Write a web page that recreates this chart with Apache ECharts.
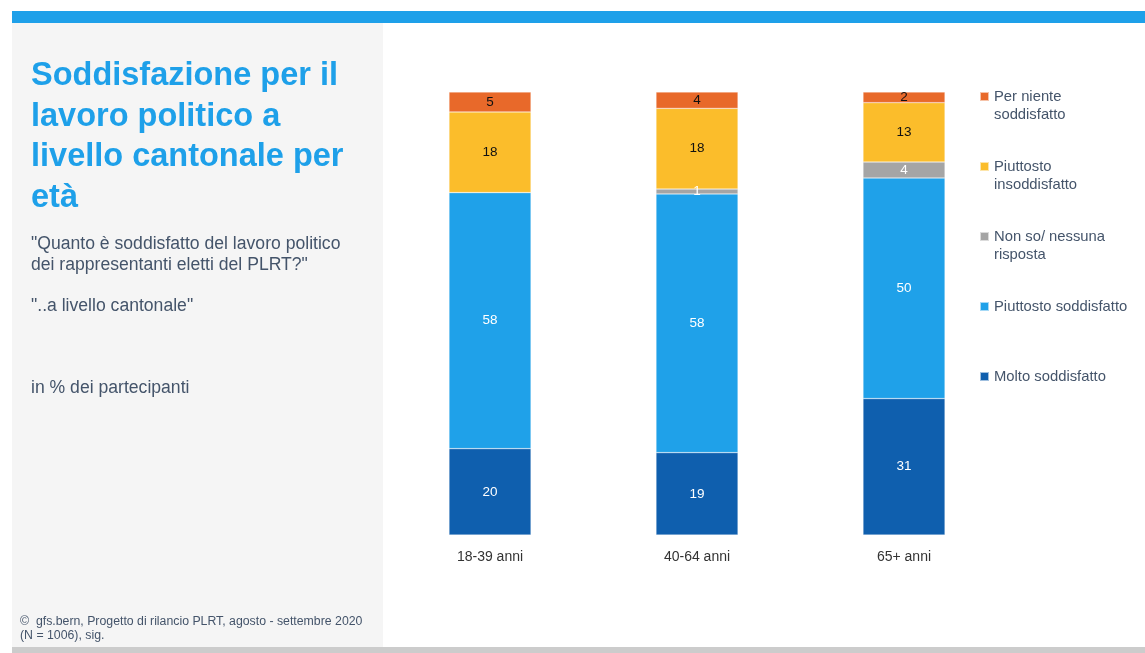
<!DOCTYPE html>
<html>
<head>
<meta charset="utf-8">
<script src="https://cdn.jsdelivr.net/npm/echarts@6/dist/echarts.min.js"></script>
<style>
html,body{margin:0;padding:0;background:#fff;}
#chart{width:1145px;height:653px;}
</style>
</head>
<body>
<div id="chart"></div>
<script>
// ---- data ----
var categories = ['18-39 anni', '40-64 anni', '65+ anni'];
var seriesNames = ['Molto soddisfatto', 'Piuttosto soddisfatto', 'Non so/ nessuna risposta', 'Piuttosto insoddisfatto', 'Per niente soddisfatto'];
var molto = [19.5, 18.6, 30.8];
var piuttostoSodd = [57.8, 58.4, 49.8];
var nonSo = [0, 1.1, 3.6];
var piuttostoInsodd = [18.2, 18.2, 13.4];
var perNiente = [4.5, 3.7, 2.4];
var legendLabels = {
  'Per niente soddisfatto': 'Per niente\nsoddisfatto',
  'Piuttosto insoddisfatto': 'Piuttosto\ninsoddisfatto',
  'Non so/ nessuna risposta': 'Non so/ nessuna\nrisposta',
  'Piuttosto soddisfatto': 'Piuttosto soddisfatto',
  'Molto soddisfatto': 'Molto soddisfatto'
};
var titleText = 'Soddisfazione per il\nlavoro politico a\nlivello cantonale per\netà';
var subtitleText = '"Quanto è soddisfatto del lavoro politico\ndei rappresentanti eletti del PLRT?"\n\n"..a livello cantonale"';
var unitText = 'in % dei partecipanti';
var sourceText = '©  gfs.bern, Progetto di rilancio PLRT, agosto - settembre 2020\n(N = 1006), sig.';

// ---- styles ----
var colors = ['#0F5FAE', '#1FA1E9', '#A5A5A5', '#FBBD2B', '#E8692A'];
var labelColors = ['#ffffff', '#ffffff', '#ffffff', '#111111', '#111111'];
var values = [molto, piuttostoSodd, nonSo, piuttostoInsodd, perNiente];
var font = '"Liberation Sans", Arial, sans-serif';
var slate = '#44546A';

var series = seriesNames.map(function (n, i) {
  return {
    name: n,
    type: 'bar',
    stack: 'total',
    barWidth: 82,
    data: values[i],
    itemStyle: { color: colors[i], borderColor: 'rgba(255,255,255,0.6)', borderWidth: 0.5 },
    label: {
      show: true,
      position: 'inside',
      color: labelColors[i],
      fontFamily: font,
      fontSize: 13.5,
      formatter: function (p) { return p.value < 0.5 ? '' : String(Math.round(p.value)); }
    },
    emphasis: { disabled: true }
  };
});

// legend: one component per item, top-to-bottom order
var legendOrder = ['Per niente soddisfatto', 'Piuttosto insoddisfatto', 'Non so/ nessuna risposta', 'Piuttosto soddisfatto', 'Molto soddisfatto'];
var legendIconTops = [92, 162, 232, 302, 372];
var LH = 18.5;
var legends = legendOrder.map(function (n, i) {
  var twoLine = legendLabels[n].indexOf('\n') >= 0;
  return {
    data: [n],
    orient: 'vertical',
    left: 979,
    top: twoLine ? legendIconTops[i] + 4.5 - 1.5 * LH : legendIconTops[i] + 4.5 - LH / 2,
    padding: 0,
    icon: 'rect',
    itemWidth: 9,
    itemHeight: 9,
    itemGap: 0,
    selectedMode: false,
    formatter: function (name) {
      var t = legendLabels[name];
      // leading empty line keeps the square level with the first text line
      return t.indexOf('\n') >= 0 ? '\n' + t : t;
    },
    textStyle: {
      fontFamily: font,
      fontSize: 14.8,
      color: slate,
      lineHeight: LH
    }
  };
});

var chart = echarts.init(document.getElementById('chart'), null, { renderer: 'canvas' });
chart.setOption({
  animation: false,
  backgroundColor: '#ffffff',
  graphic: [
    { type: 'rect', shape: { x: 12, y: 11, width: 1133, height: 12 }, style: { fill: '#1EA0E9' }, z: -10 },
    { type: 'rect', shape: { x: 12, y: 23, width: 371, height: 624 }, style: { fill: '#F5F5F5' }, z: -10 },
    { type: 'rect', shape: { x: 12, y: 647, width: 1133, height: 6 }, style: { fill: '#CCCCCC' }, z: -10 }
  ],
  title: [
    { text: titleText, left: 31, top: 56, padding: 0,
      textStyle: { fontFamily: font, fontSize: 32.5, fontWeight: 'bold', color: '#1EA0E9', lineHeight: 40.5 } },
    { text: subtitleText, left: 31, top: 234, padding: 0,
      textStyle: { fontFamily: font, fontSize: 17.6, fontWeight: 'normal', color: slate, lineHeight: 20.7 } },
    { text: unitText, left: 31, top: 378, padding: 0,
      textStyle: { fontFamily: font, fontSize: 17.6, fontWeight: 'normal', color: slate, lineHeight: 20 } },
    { text: sourceText, left: 20, top: 615, padding: 0,
      textStyle: { fontFamily: font, fontSize: 12.3, fontWeight: 'normal', color: slate, lineHeight: 14 } }
  ],
  legend: legends,
  grid: { left: 386.5, right: 137.5, top: 92, bottom: 118, containLabel: false },
  xAxis: {
    type: 'category',
    data: categories,
    axisLine: { show: false },
    axisTick: { show: false },
    axisLabel: { color: '#333333', fontFamily: font, fontSize: 14, margin: 15 }
  },
  yAxis: { type: 'value', min: 0, max: 100, show: false },
  series: series
});
</script>
</body>
</html>
